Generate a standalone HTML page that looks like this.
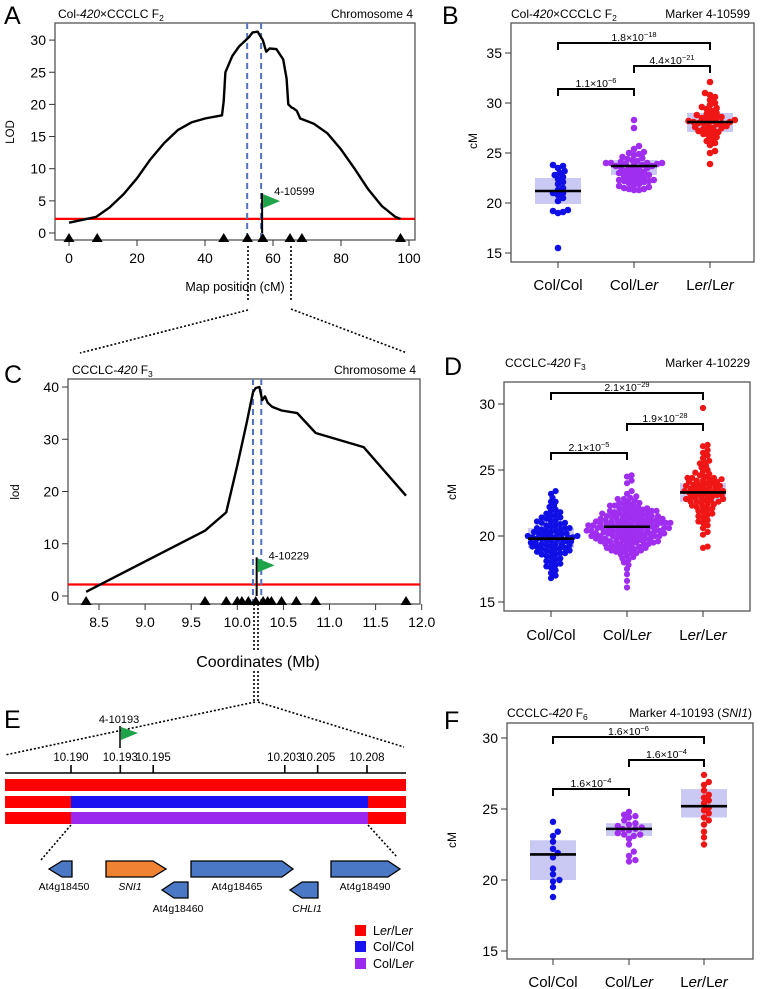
<!DOCTYPE html>
<html><head><meta charset="utf-8">
<style>
html,body{margin:0;padding:0;background:#fff;}
svg{display:block;font-family:"Liberation Sans",Arial,sans-serif;}
</style></head>
<body>
<svg id="fig" width="762" height="989" viewBox="0 0 762 989" xmlns="http://www.w3.org/2000/svg">
<text x="4" y="24" font-size="25">A</text>
<text x="442" y="24" font-size="25">B</text>
<text x="4" y="383" font-size="25">C</text>
<text x="444" y="375" font-size="25">D</text>
<text x="4" y="728" font-size="25">E</text>
<text x="444" y="729" font-size="25">F</text>

<text x="58" y="18" font-size="12">Col-<tspan font-style="italic">420</tspan>×CCCLC F<tspan font-size="8.5" dy="3">2</tspan></text>
<text x="413" y="18" font-size="12" text-anchor="end">Chromosome 4</text>
<text x="511" y="18" font-size="12">Col-<tspan font-style="italic">420</tspan>×CCCLC F<tspan font-size="8.5" dy="3">2</tspan></text>
<text x="750" y="18" font-size="12" text-anchor="end">Marker 4-10599</text>
<text x="72" y="374" font-size="12">CCCLC-<tspan font-style="italic">420</tspan> F<tspan font-size="8.5" dy="3">3</tspan></text>
<text x="416" y="374" font-size="12" text-anchor="end">Chromosome 4</text>
<text x="505" y="367" font-size="12">CCCLC-<tspan font-style="italic">420</tspan> F<tspan font-size="8.5" dy="3">3</tspan></text>
<text x="750" y="367" font-size="12" text-anchor="end">Marker 4-10229</text>
<text x="507" y="717" font-size="12">CCCLC-<tspan font-style="italic">420</tspan> F<tspan font-size="8.5" dy="3">6</tspan></text>
<text x="752" y="717" font-size="12" text-anchor="end">Marker 4-10193 (<tspan font-style="italic">SNI1</tspan>)</text>

<text x="0" y="0" font-size="11.5" text-anchor="middle" transform="translate(14,132) rotate(-90)">LOD</text>
<text x="235" y="291" font-size="12.5" text-anchor="middle">Map position (cM)</text>
<text x="0" y="0" font-size="12" text-anchor="middle" transform="translate(477,141) rotate(-90)">cM</text>
<text x="0" y="0" font-size="11.5" text-anchor="middle" transform="translate(19,492) rotate(-90)">lod</text>
<text x="258" y="667" font-size="16" text-anchor="middle">Coordinates (Mb)</text>
<text x="0" y="0" font-size="12" text-anchor="middle" transform="translate(456,492) rotate(-90)">cM</text>
<text x="0" y="0" font-size="12" text-anchor="middle" transform="translate(456,840) rotate(-90)">cM</text>

<g stroke="#000" stroke-width="1.6" stroke-dasharray="2,2" fill="none">
<line x1="248" y1="246" x2="248" y2="300"/><line x1="291" y1="246" x2="291" y2="300"/>
<line x1="248" y1="310" x2="80" y2="353"/><line x1="291" y1="309" x2="407" y2="353"/>
<line x1="254" y1="604" x2="254" y2="651"/><line x1="258" y1="604" x2="258" y2="651"/>
<line x1="254" y1="671" x2="254" y2="702"/><line x1="258" y1="671" x2="258" y2="702"/>
<line x1="255" y1="702" x2="5" y2="755"/><line x1="258" y1="702" x2="404" y2="747"/>
<line x1="71" y1="825" x2="41" y2="860"/><line x1="368" y1="825" x2="397" y2="857"/>
</g>

<g>
<line x1="5" y1="773" x2="406" y2="773" stroke="#000" stroke-width="1.6"/>
<rect x="5" y="779" width="401" height="12" fill="#f00"/>
<rect x="5" y="796" width="401" height="12" fill="#f00"/>
<rect x="71" y="796" width="297" height="12" fill="#1a12f0"/>
<rect x="5" y="812" width="401" height="12" fill="#f00"/>
<rect x="71" y="812" width="297" height="12" fill="#9b28ef"/>
<line x1="120" y1="748" x2="120" y2="726" stroke="#000" stroke-width="1.5"/>
<polygon points="121,727 138,733 121,740" fill="#1fa34a"/>
<text x="119" y="723" font-size="11" text-anchor="middle">4-10193</text>
<g stroke="#000" stroke-width="1.3">
<polygon points="49,869 62,861 72,861 72,877 62,877" fill="#4a78c4"/>
<polygon points="106,861 153,861 166,869 153,877 106,877" fill="#ef8332"/>
<polygon points="191,861 282,861 293,869 282,877 191,877" fill="#4a78c4"/>
<polygon points="331,861 388,861 400,869 388,877 331,877" fill="#4a78c4"/>
<polygon points="162,890 174,882 188,882 188,898 174,898" fill="#4a78c4"/>
<polygon points="290,890 302,882 318,882 318,898 302,898" fill="#4a78c4"/>
</g>
<g font-size="10.5" text-anchor="middle">
<text x="64" y="890">At4g18450</text>
<text x="130" y="890" font-style="italic">SNI1</text>
<text x="237" y="890">At4g18465</text>
<text x="365" y="890">At4g18490</text>
<text x="178" y="912">At4g18460</text>
<text x="307" y="912" font-style="italic">CHLI1</text>
</g>
<g font-size="12.5">
<rect x="355" y="925" width="11" height="11" fill="#f00"/>
<text x="373" y="935">L<tspan font-style="italic">er</tspan>/L<tspan font-style="italic">er</tspan></text>
<rect x="355" y="941" width="11" height="11" fill="#1a12f0"/>
<text x="373" y="951">Col/Col</text>
<rect x="355" y="958" width="11" height="11" fill="#9b28ef"/>
<text x="373" y="968">Col/L<tspan font-style="italic">er</tspan></text>
</g>
</g>
<g id="dyn"></g>
</svg>
<script>
const aPos = [0,8,12,16,20,24,28,32,36,40,45,45.5,46,48,50,52,53,54,55.5,57,58,59,61,63,64,64.5,65.5,66,67,68,69,72,76,80,84,88,92,96,97.5];
const aLod = [1.6,2.5,4,6,8.5,11.5,14,16,17.2,17.8,18.3,20.5,25,27.5,29,30,30.5,31.2,31.3,30,28.2,28.7,28.6,27,24,20,19.5,19.4,19,17.8,17.6,17,15.5,13,10,6.8,4.2,2.5,2.2];
const aMarkers = [0,8.3,45.5,52.5,57,65,68.5,97.5];
const aXTicks = [0,20,40,60,80,100];
const aYTicks = [0,5,10,15,20,25,30];
const aThreshold = 2.2;
const aCI = [52.4,56.5];
const aFlagPos = 56.8;
const cPos = [8.36,9.65,9.88,10.0,10.1,10.17,10.2,10.24,10.27,10.3,10.33,10.38,10.48,10.65,10.85,11.37,11.83];
const cLod = [0.8,12.5,16,25,33,39,39.8,40,37.5,38.2,37,36.2,35.5,35,31.2,28.5,19.2];
const cMarkers = [8.36,9.65,9.88,10.0,10.05,10.12,10.2,10.28,10.33,10.37,10.48,10.64,10.85,11.83];
const cXTicks = [8.5,9.0,9.5,10.0,10.5,11.0,11.5,12.0];
const cXTickLabels = ["8.5","9.0","9.5","10.0","10.5","11.0","11.5","12.0"];
const cYTicks = [0,10,20,30,40];
const cThreshold = 2.2;
const cCI = [10.17,10.26];
const cFlagPos = 10.21;
const eTicks = [10.190,10.193,10.195,10.203,10.205,10.208];
const eTickLabels = ["10.190","10.193","10.195","10.203","10.205","10.208"];
const groups = ["Col/Col","Col/Ler","Ler/Ler"];
const bColCol = [23.8,23.7,23.5,23.2,22.8,22.6,22.4,22.1,21.9,21.5,21.3,21.0,21.0,20.8,20.5,20.2,19.3,19.2,19.0,19.1,15.5,23.0];
const bColLer = [28.3,27.5,25.7,25.4,25.1,25.0,24.9,24.8,24.6,24.5,24.4,24.3,24.2,24.1,24.0,24.0,24.0,23.9,23.9,23.8,23.8,23.7,23.7,23.6,23.5,23.4,23.3,23.2,23.1,23.0,23.0,22.9,22.8,22.7,22.6,22.5,22.4,22.3,22.3,22.3,22.2,22.2,22.1,22.0,21.9,21.8,21.7,21.6,21.5,21.4,21.4,21.3,21.3,24.0,23.5,22.8];
const bLerLer = [32.1,31.0,30.8,30.6,30.3,30.0,29.8,29.6,29.4,29.2,29.0,28.9,28.8,28.7,28.6,28.5,28.4,28.3,28.2,28.2,28.1,28.1,28.0,28.0,27.9,27.8,27.7,27.6,27.5,27.4,27.3,27.2,27.1,27.0,26.9,26.8,26.6,26.4,26.2,26.0,25.8,25.2,25.0,23.9,28.5,28.0,27.5,29.5];
const bMedians = [21.2,23.7,28.1];
const bBoxLow = [19.9,22.8,27.1];
const bBoxHigh = [22.5,24.3,29.0];
const bYTicks = [15,20,25,30,35];
const bPvals = ["1.1×10","4.4×10","1.8×10"];
const bPexp = ["−6","−21","−18"];
const dColCol = [23.4,23.2,22.9,22.6,22.6,22.3,22.2,22.0,21.9,21.8,21.7,21.6,21.5,21.4,21.4,21.3,21.2,21.1,21.0,21.0,20.9,20.8,20.8,20.7,20.6,20.6,20.5,20.5,20.4,20.4,20.3,20.3,20.2,20.2,20.1,20.1,20.0,20.0,19.9,19.9,19.9,19.8,19.8,19.8,19.7,19.7,19.6,19.6,19.5,19.5,19.4,19.4,19.3,19.3,19.2,19.2,19.1,19.1,19.0,19.0,18.9,18.9,18.8,18.7,18.7,18.6,18.6,18.5,18.4,18.3,18.2,18.1,18.0,17.9,17.8,17.7,17.6,17.4,17.2,17.0,16.8,20.2,20.0,19.6,19.4,21.1,18.8,20.6,19.9,19.2];
const dColLer = [24.6,24.5,24.2,24.0,23.4,23.2,23.0,22.9,22.8,22.8,22.7,22.6,22.5,22.5,22.4,22.3,22.3,22.2,22.2,22.1,22.1,22.0,22.0,21.9,21.9,21.8,21.8,21.8,21.7,21.7,21.6,21.6,21.6,21.5,21.5,21.5,21.4,21.4,21.4,21.3,21.3,21.3,21.2,21.2,21.2,21.1,21.1,21.1,21.1,21.0,21.0,21.0,21.0,20.9,20.9,20.9,20.9,20.8,20.8,20.8,20.8,20.7,20.7,20.7,20.7,20.6,20.6,20.6,20.6,20.5,20.5,20.5,20.5,20.4,20.4,20.4,20.4,20.3,20.3,20.3,20.3,20.2,20.2,20.2,20.2,20.1,20.1,20.1,20.0,20.0,20.0,20.0,19.9,19.9,19.9,19.8,19.8,19.8,19.7,19.7,19.7,19.6,19.6,19.6,19.5,19.5,19.5,19.4,19.4,19.4,19.3,19.3,19.2,19.2,19.1,19.1,19.0,19.0,18.9,18.9,18.8,18.8,18.7,18.6,18.5,18.4,18.3,18.2,18.0,17.8,17.5,17.1,16.6,16.1,21.9,21.7,21.3,21.1,20.9,20.6,20.4,20.2,20.0,19.8,19.6,19.4,19.2,19.0,18.7,22.4,22.0,21.5,21.2,20.8];
const dLerLer = [29.7,26.9,26.8,26.5,26.3,26.1,25.9,25.7,25.6,25.5,25.3,25.2,25.0,24.9,24.8,24.7,24.6,24.5,24.4,24.4,24.3,24.3,24.2,24.2,24.1,24.1,24.0,24.0,23.9,23.9,23.8,23.8,23.7,23.7,23.6,23.6,23.5,23.5,23.4,23.4,23.4,23.3,23.3,23.3,23.2,23.2,23.1,23.1,23.0,23.0,22.9,22.9,22.8,22.8,22.7,22.7,22.6,22.6,22.5,22.4,22.4,22.3,22.2,22.1,22.0,21.9,21.8,21.7,21.6,21.5,21.4,21.2,21.0,20.8,20.6,20.3,20.1,19.2,19.1,23.8,23.4,23.0,22.6,24.4,22.2,21.1];
const dMedians = [19.8,20.7,23.3];
const dBoxLow = [19.1,19.7,22.6];
const dBoxHigh = [20.6,21.8,24.0];
const dYTicks = [15,20,25,30];
const dPvals = ["2.1×10","1.9×10","2.1×10"];
const dPexp = ["−5","−28","−29"];
const fColCol = [24.1,23.4,23.1,22.7,22.2,21.9,21.6,20.8,20.4,20.0,19.9,19.5,18.8];
const fColLer = [24.8,24.6,24.5,24.4,24.2,24.0,23.9,23.8,23.7,23.6,23.5,23.3,23.2,23.1,22.9,22.5,22.0,21.7,21.4,21.3,23.6,23.2];
const fLerLer = [27.4,26.9,26.7,26.3,26.0,25.6,25.4,25.1,24.9,24.7,24.4,23.9,23.4,23.0,22.5,25.8,24.2];
const fMedians = [21.8,23.6,25.2];
const fBoxLow = [20.0,23.1,24.4];
const fBoxHigh = [22.8,24.0,26.4];
const fYTicks = [15,20,25,30];
const fPvals = ["1.6×10","1.6×10","1.6×10"];
const fPexp = ["−4","−4","−6"];

const NS = "http://www.w3.org/2000/svg";
const root = document.getElementById("dyn");
function mk(tag, attrs, parent) {
  const e = document.createElementNS(NS, tag);
  for (const k in attrs) e.setAttribute(k, attrs[k]);
  (parent || root).appendChild(e);
  return e;
}
function grp(name) {
  const g = mk("g", {});
  
  
  return g;
}

function lodPanel(p) {
  const g = grp(p.id);
  const fr = mk("rect", {x:p.bx0, y:p.by0, width:p.bx1-p.bx0, height:p.by1-p.by0, fill:"none", stroke:"#555", "stroke-width":1.3}, g);
  
  
  p.yTicks.forEach(v => {
    const t = mk("line", {x1:p.bx0-6, x2:p.bx0, y1:p.y(v), y2:p.y(v), stroke:"#333", "stroke-width":1}, g);
    
    
    const l = mk("text", {x:p.bx0-9, y:p.y(v)+5, "font-size":14, "text-anchor":"end"}, g);
    l.textContent = v;
    
    
  });
  p.xTicks.forEach((v,i) => {
    const t = mk("line", {x1:p.x(v), x2:p.x(v), y1:p.by1, y2:p.by1+6, stroke:"#333", "stroke-width":1}, g);
    
    
    const l = mk("text", {x:p.x(v), y:p.by1+23, "font-size":14, "text-anchor":"middle"}, g);
    l.textContent = p.xLabels ? p.xLabels[i] : v;
    
    
  });
  const th = mk("line", {x1:p.bx0, x2:p.bx1, y1:p.y(p.thr), y2:p.y(p.thr), stroke:"#f00", "stroke-width":2.2}, g);
  
  
  p.ci.forEach(v => {
    const d = mk("line", {x1:p.x(v), x2:p.x(v), y1:p.by0, y2:p.by1, stroke:"#4f72c4", "stroke-width":2, "stroke-dasharray":"6,4"}, g);
    
    
  });
  const pts = p.pos.map((v,i) => p.x(v).toFixed(1) + "," + p.y(p.lod[i]).toFixed(1)).join(" ");
  const cur = mk("polyline", {points:pts, fill:"none", stroke:"#000", "stroke-width":2.4, "stroke-linejoin":"round"}, g);
  
  
  const fx = p.x(p.flag);
  const pole = mk("line", {x1:fx, x2:fx, y1:p.y(0), y2:p.y(p.flagTop), stroke:"#000", "stroke-width":2}, g);
  
  
  const ft = p.y(p.flagTop)+1;
  const fl = mk("polygon", {points:`${fx+1},${ft} ${fx+18},${ft+7} ${fx+1},${ft+14}`, fill:"#1fa34a"}, g);
  
  
  const fltxt = mk("text", {x:fx+12, y:ft+1, "font-size":11}, g);
  fltxt.textContent = p.flagLabel;
  
  
  p.markers.forEach(v => {
    const mx = p.x(v), my = p.y(0);
    const tri = mk("polygon", {points:`${mx},${my} ${mx-5.5},${my+9} ${mx+5.5},${my+9}`, fill:"#000"}, g);
    
    
  });
}
lodPanel({id:"panel-a-lod-plot", bx0:55, bx1:415, by0:23, by1:240,
  x:v=>69+v*3.4, y:v=>233-v*6.43, xTicks:aXTicks, yTicks:aYTicks, thr:aThreshold,
  ci:aCI, pos:aPos, lod:aLod, flag:aFlagPos, flagTop:6.2, flagLabel:"4-10599", markers:aMarkers});
lodPanel({id:"panel-c-lod-plot", bx0:68, bx1:420, by0:379, by1:604,
  x:v=>99+(v-8.5)*92.2, y:v=>596-v*5.225, xTicks:cXTicks, xLabels:cXTickLabels, yTicks:cYTicks, thr:cThreshold,
  ci:cCI, pos:cPos, lod:cLod, flag:cFlagPos, flagTop:7.4, flagLabel:"4-10229", markers:cMarkers});

const eg = grp("panel-e-axis-ticks");
const ex = v => 71 + (v-10.190)*16444;
eTicks.forEach((v,i) => {
  const t = mk("line", {x1:ex(v), x2:ex(v), y1:765, y2:773, stroke:"#000", "stroke-width":1.6}, eg);
  
  
  const l = mk("text", {x:ex(v), y:761, "font-size":11.5, "text-anchor":"middle"}, eg);
  l.textContent = eTickLabels[i];
  
  
});

const colors = ["#1010e6","#a02ef0","#f01616"];
function swarm(vals, cx, yf, r, fac, color, g) {
  const sorted = vals.slice().sort((a,b)=>a-b);
  const placed = [];
  const minD = r*fac;
  sorted.forEach(v => {
    const y = yf(v);
    let best = 0;
    for (let k=0; k<400; k++) {
      const off = (k===0)?0:((k%2===1)?1:-1)*Math.ceil(k/2)*r*0.5;
      let ok = true;
      for (const q of placed) {
        const dx = q[0]-(cx+off), dy = q[1]-y;
        if (dx*dx+dy*dy < minD*minD) { ok=false; break; }
      }
      if (ok) { best = off; break; }
    }
    placed.push([cx+best, y]);
    const c = mk("circle", {cx:(cx+best).toFixed(1), cy:y.toFixed(1), r:r, fill:color}, g);
    
    
  });
}
function boxPanel(p) {
  const g = grp(p.id);
  const fr = mk("rect", {x:p.bx0, y:p.by0, width:p.bx1-p.bx0, height:p.by1-p.by0, fill:"none", stroke:"#555", "stroke-width":1.3}, g);
  
  
  p.yTicks.forEach(v => {
    const t = mk("line", {x1:p.bx0-6, x2:p.bx0, y1:p.y(v), y2:p.y(v), stroke:"#333"}, g);
    
    
    const l = mk("text", {x:p.bx0-9, y:p.y(v)+5, "font-size":14, "text-anchor":"end"}, g);
    l.textContent = v;
    
    
  });
  const labelsHtml = ['Col/Col','Col/L<tspan font-style="italic">er</tspan>','L<tspan font-style="italic">er</tspan>/L<tspan font-style="italic">er</tspan>'];
  p.cats.forEach((cx,i) => {
    const t = mk("line", {x1:cx, x2:cx, y1:p.by1, y2:p.by1+6, stroke:"#333"}, g);
    
    
    const l = mk("text", {x:cx, y:p.labelY, "font-size":15, "text-anchor":"middle"}, g);
    l.innerHTML = labelsHtml[i];
    
    
    const b = mk("rect", {x:cx-23, y:p.y(p.hi[i]), width:46, height:p.y(p.lo[i])-p.y(p.hi[i]), fill:"#c9c9f4"}, g);
    
    
  });
  p.data.forEach((vals,i) => swarm(vals, p.cats[i], p.y, p.r, p.fac, colors[i], g));
  p.cats.forEach((cx,i) => {
    const m = mk("line", {x1:cx-23, x2:cx+23, y1:p.y(p.med[i]), y2:p.y(p.med[i]), stroke:"#000", "stroke-width":2.6}, g);
    
    
  });
  const pairs = [[0,1],[1,2],[0,2]];
  pairs.forEach((pr,i) => {
    const x0 = p.cats[pr[0]], x1 = p.cats[pr[1]], yy = p.brY[i];
    const br = mk("polyline", {points:`${x0},${yy+7} ${x0},${yy} ${x1},${yy} ${x1},${yy+7}`, fill:"none", stroke:"#000", "stroke-width":2}, g);
    
    
    const t = mk("text", {x:(x0+x1)/2, y:yy-2, "font-size":10.5, "text-anchor":"middle"}, g);
    t.innerHTML = p.pv[i] + '<tspan font-size="7.5" dy="-4">' + p.pe[i] + '</tspan>';
    
    
  });
}
boxPanel({id:"panel-b-beeswarm", bx0:511, bx1:754, by0:23, by1:262, cats:[558,634,710],
  y:v=>253-(v-15)*10, yTicks:bYTicks, labelY:290, r:3.3, fac:1.45, data:[bColCol,bColLer,bLerLer],
  med:bMedians, lo:bBoxLow, hi:bBoxHigh, brY:[89,66,43], pv:bPvals, pe:bPexp});
boxPanel({id:"panel-d-beeswarm", bx0:504, bx1:750, by0:382, by1:611, cats:[551,627,703],
  y:v=>602-(v-15)*13.2, yTicks:dYTicks, labelY:640, r:3.1, fac:1.35, data:[dColCol,dColLer,dLerLer],
  med:dMedians, lo:dBoxLow, hi:dBoxHigh, brY:[453,424,393], pv:dPvals, pe:dPexp});
boxPanel({id:"panel-f-beeswarm", bx0:507, bx1:753, by0:723, by1:959, cats:[553,629,704],
  y:v=>951-(v-15)*14.2, yTicks:fYTicks, labelY:987, r:3.2, fac:1.7, data:[fColCol,fColLer,fLerLer],
  med:fMedians, lo:fBoxLow, hi:fBoxHigh, brY:[789,760,737], pv:fPvals, pe:fPexp});
</script>
</body></html>
